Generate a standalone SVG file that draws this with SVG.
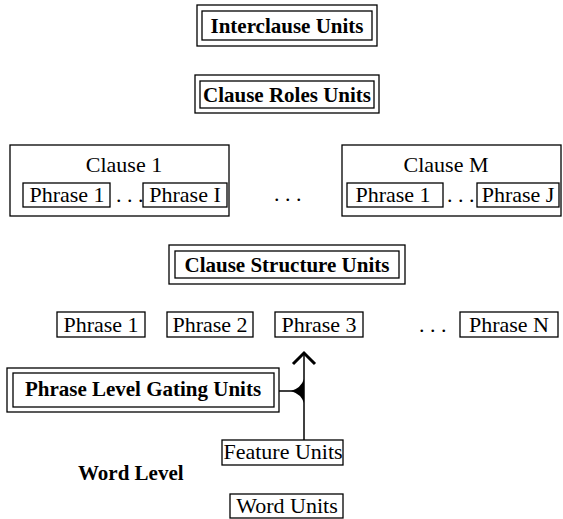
<svg xmlns="http://www.w3.org/2000/svg" width="563" height="519" viewBox="0 0 563 519">
<style>
rect{fill:none;stroke:#000;stroke-width:1.3}
text{font-family:"Liberation Serif","Times New Roman",serif;font-size:22px;fill:#000}
.b{font-weight:bold;font-size:21px}
.c{text-anchor:middle}
.ln{fill:none;stroke:#000;stroke-width:1.5}
</style>
<rect x="0" y="0" width="563" height="519" style="fill:#fff;stroke:none"/>
<g id="interclause">
<rect x="197" y="5" width="180" height="41"/><rect x="202" y="11" width="170" height="29"/>
<text class="b c" x="287" y="33">Interclause Units</text>
</g>
<g id="clause-roles">
<rect x="195" y="75" width="184" height="38"/><rect x="200" y="81" width="174" height="27"/>
<text class="b c" x="287" y="102">Clause Roles Units</text>
</g>
<g id="clause1">
<rect x="10" y="145" width="219" height="71"/>
<text class="c" x="124" y="172">Clause 1</text>
<rect x="23" y="183" width="87" height="24"/><text class="c" x="67" y="202">Phrase 1</text>
<text x="116" y="202">. . .</text>
<rect x="143" y="183" width="84" height="24"/><text class="c" x="185" y="202">Phrase I</text>
</g>
<g id="clause-dots"><text x="274" y="201">. . .</text></g>
<g id="clauseM">
<rect x="342" y="145" width="219" height="71"/>
<text class="c" x="446" y="172">Clause M</text>
<rect x="347" y="183" width="96" height="24"/><text class="c" x="393" y="202">Phrase 1</text>
<text x="447" y="202">. . .</text>
<rect x="477" y="183" width="82" height="24"/><text class="c" x="518" y="202">Phrase J</text>
</g>
<g id="clause-structure">
<rect x="169" y="245" width="236" height="39"/><rect x="175" y="251" width="224" height="27"/>
<text class="b c" x="287" y="272">Clause Structure Units</text>
</g>
<g id="phrase1"><rect x="57" y="312" width="88" height="25"/><text class="c" x="101" y="332">Phrase 1</text></g>
<g id="phrase2"><rect x="167" y="312" width="86" height="25"/><text class="c" x="210" y="332">Phrase 2</text></g>
<g id="phrase3"><rect x="275" y="312" width="88" height="25"/><text class="c" x="319" y="332">Phrase 3</text></g>
<g id="phrase-dots"><text x="419" y="332">. . .</text></g>
<g id="phraseN"><rect x="460" y="312" width="98" height="25"/><text class="c" x="509" y="332">Phrase N</text></g>
<g id="gating">
<rect x="7" y="368" width="272" height="44"/><rect x="13" y="373" width="261" height="34"/>
<text class="b c" x="143" y="396">Phrase Level Gating Units</text>
</g>
<g id="feature"><rect x="222" y="440" width="121" height="25"/><text class="c" x="283" y="459">Feature Units</text></g>
<g id="word-level"><text class="b" x="78" y="480">Word Level</text></g>
<g id="word"><rect x="230" y="494" width="113" height="24"/><text class="c" x="287" y="513">Word Units</text></g>
<g id="connectors">
<path class="ln" d="M304,440 V355"/>
<path d="M293,364 L304,353 L315,364" style="fill:none;stroke:#000;stroke-width:3;stroke-linejoin:miter"/>
<path class="ln" d="M279,391 H293"/>
<path d="M304,379 Q301,388 291,391 Q301,394 304,403 Z" fill="#000"/>
</g>
</svg>
